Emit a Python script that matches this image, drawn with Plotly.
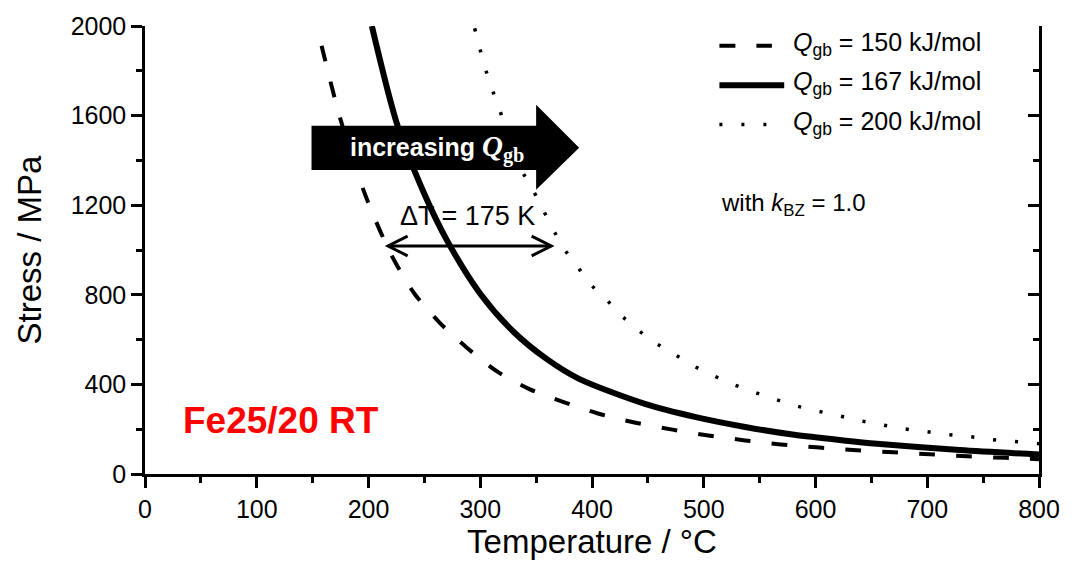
import plotly.graph_objects as go

# Stress vs. temperature for three grain-boundary activation energies
t_150 = [158, 175, 197, 220, 241, 264, 288, 315, 344, 374, 406, 439, 472, 504,
         537, 569, 601, 637, 670, 702, 736, 770, 800]
s_150 = [1912, 1582, 1247, 982, 806, 674, 564, 458, 379, 322, 269, 229, 198, 172,
         150, 132, 119, 106, 97, 88, 79, 72, 66]

t_167 = [203, 226, 250, 270, 300, 330, 359, 388, 448, 492, 537, 581, 625,
         655, 729, 800]
s_167 = [2000, 1555, 1250, 1045, 805, 634, 515, 426, 312, 255, 210, 175, 150,
         135, 107, 87]

t_200 = [295, 299, 304, 310, 317, 337, 347, 374, 386, 397, 411, 424, 439, 455,
         473, 490, 508, 526, 545, 563, 583, 601, 621, 640, 659, 678, 699, 718,
         738, 757, 778, 800]
s_200 = [1990, 1912, 1819, 1727, 1630, 1357, 1269, 1013, 934, 855, 789, 718, 652,
         590, 537, 485, 441, 401, 366, 335, 304, 282, 260, 238, 220, 203, 189,
         176, 167, 154, 145, 135]

legend_labels = ["150", "167", "200"]
x_ticks = [0, 100, 200, 300, 400, 500, 600, 700, 800]
y_ticks = [0, 400, 800, 1200, 1600, 2000]

SANS = "Liberation Sans, Arial, sans-serif"
SERIF = "Liberation Serif, Times New Roman, serif"

styles = [
    dict(color="black", width=4, dash="16px,21px"),
    dict(color="black", width=6),
    dict(color="black", width=3.5, dash="3px,19px"),
]

fig = go.Figure()
for t, s, st in zip([t_150, t_167, t_200], [s_150, s_167, s_200], styles):
    fig.add_trace(go.Scatter(x=t, y=s, mode="lines",
                             line=dict(shape="spline", smoothing=0.8, **st),
                             showlegend=False, hoverinfo="skip"))

# invisible helper so the mirrored right-hand axis gets drawn
fig.add_trace(go.Scatter(x=[0, 800], y=[0, 0], yaxis="y2", mode="lines",
                         line=dict(width=0), showlegend=False, hoverinfo="skip"))

shapes = []
annotations = []

# big black "increasing Q" arrow
arrow = [(149, 1555), (350, 1555), (350, 1648), (388.5, 1456), (350, 1269),
         (350, 1357), (149, 1357)]
path = "M " + " L ".join(f"{a},{b}" for a, b in arrow) + " Z"
shapes.append(dict(type="path", path=path, xref="x", yref="y", fillcolor="black",
                   line=dict(width=0), layer="above"))
annotations.append(dict(
    x=261, y=1452, xref="x", yref="y", showarrow=False,
    text=("<b>increasing </b><span style='font-family:" + SERIF + "; font-size:29px'>"
          "<b><i>Q</i><sub>gb</sub></b></span>"),
    font=dict(family=SANS, size=25, color="white")))

# double-headed ΔT arrow
y_dt = 1018
xl, xr = 217.5, 363.5
dx, dy = 17.5, 44
shapes.append(dict(type="line", x0=xl, x1=xr, y0=y_dt, y1=y_dt, xref="x", yref="y",
                   line=dict(color="black", width=3), layer="above"))
shapes.append(dict(type="path", xref="x", yref="y", layer="above",
                   path=f"M {xl+dx},{y_dt+dy} L {xl},{y_dt} L {xl+dx},{y_dt-dy}",
                   line=dict(color="black", width=3)))
shapes.append(dict(type="path", xref="x", yref="y", layer="above",
                   path=f"M {xr-dx},{y_dt+dy} L {xr},{y_dt} L {xr-dx},{y_dt-dy}",
                   line=dict(color="black", width=3)))
annotations.append(dict(x=289, y=1150, xref="x", yref="y", showarrow=False,
                        text="ΔT = 175 K", font=dict(family=SANS, size=27, color="black")))

# legend drawn by hand
leg_y = [1912, 1736, 1560]
leg_x1 = [561, 572, 557]
for lab, yy, x1, st in zip(legend_labels, leg_y, leg_x1, styles):
    shapes.append(dict(type="line", x0=514, x1=x1, y0=yy, y1=yy, xref="x", yref="y",
                       line=st, layer="above"))
    annotations.append(dict(x=578.5, y=yy + 8, xref="x", yref="y", showarrow=False,
                            xanchor="left", yanchor="middle",
                            text=f"<i>Q</i><sub>gb</sub> = {lab} kJ/mol",
                            font=dict(family=SANS, size=25, color="black")))

annotations.append(dict(x=514, y=1205, xref="x", yref="y", showarrow=False,
                        xanchor="left", yanchor="middle",
                        text="with <i>k</i><sub>BZ</sub> = 1.0",
                        font=dict(family=SANS, size=24, color="black")))

annotations.append(dict(x=32, y=237, xref="x", yref="y", showarrow=False,
                        xanchor="left", yanchor="middle", text="<b>Fe25/20 RT</b>",
                        font=dict(family=SANS, size=37, color="#ff0000")))

axis_common = dict(showgrid=False, zeroline=False, showline=True, linecolor="black",
                   linewidth=2.5, tickcolor="black", tickwidth=2.5, ticklen=11)

fig.update_layout(
    width=1072, height=562,
    margin=dict(l=145, r=25, t=22, b=86),
    paper_bgcolor="white", plot_bgcolor="white",
    font=dict(family=SANS, color="black"),
    shapes=shapes, annotations=annotations,
    xaxis=dict(range=[0, 800], tickvals=x_ticks, ticks="outside",
               tickfont=dict(size=25),
               minor=dict(dtick=50, ticks="outside", ticklen=6, tickwidth=2.5, tickcolor="black"),
               title=dict(text="Temperature / °C", font=dict(size=33), standoff=4),
               **axis_common),
    yaxis=dict(range=[0, 2000], tickvals=y_ticks, ticks="outside",
               tickfont=dict(size=25),
               minor=dict(dtick=200, ticks="outside", ticklen=6, tickwidth=2.5, tickcolor="black"),
               title=dict(text="Stress / MPa", font=dict(size=33), standoff=20),
               **axis_common),
    yaxis2=dict(range=[0, 2000], overlaying="y", side="right", tickvals=y_ticks,
                ticks="inside", showticklabels=False,
                minor=dict(dtick=200, ticks="inside", ticklen=6, tickwidth=2.5, tickcolor="black"),
                **axis_common),
)

fig.write_html("out.html")
